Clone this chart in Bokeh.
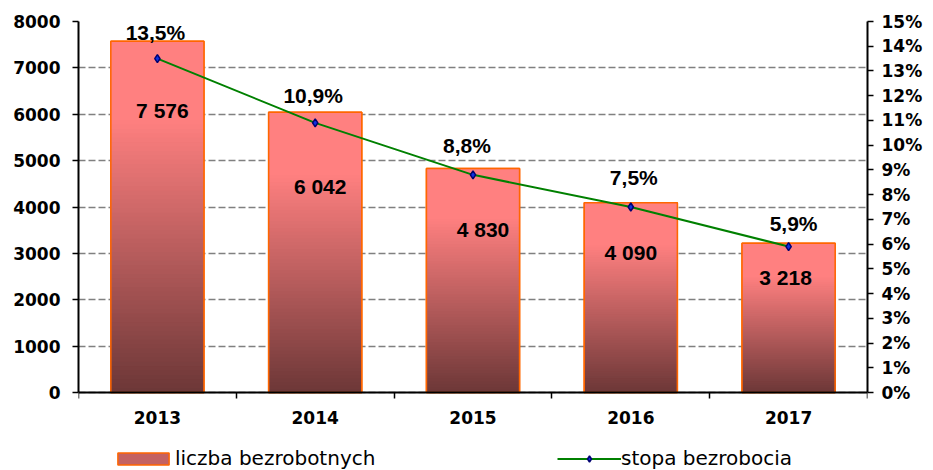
import numpy as np
from bokeh.plotting import figure
from bokeh.models import (Range1d, LinearAxis, FixedTicker, PrintfTickFormatter,
                          ColumnDataSource, Legend, LegendItem)
from bokeh.core.properties import value
from bokeh.embed import file_html
from bokeh.resources import INLINE

# ---- data ----
years = ["2013", "2014", "2015", "2016", "2017"]
unemployed = [7576, 6042, 4830, 4090, 3218]
rate = [13.5, 10.9, 8.8, 7.5, 5.9]
left_ticks = [0, 1000, 2000, 3000, 4000, 5000, 6000, 7000, 8000]
right_ticks = list(range(0, 16))
unemployed_labels = ["7 576", "6 042", "4 830", "4 090", "3 218"]
rate_labels = ["13,5%", "10,9%", "8,8%", "7,5%", "5,9%"]
left_max, right_max = 8000, 15

# ---- style (screen offsets for the hand-placed labels) ----
val_dx = [5, 5, 10, 0, -3]
val_dy = [69, 74, 61, 50, 34]
pct_dx = [-2, -2, -6, 3, 5]
pct_dy = [-26, -27, -29, -30, -23]

AXIS_FONT = "DejaVu Sans"
LABEL_FONT = "Liberation Sans"
BAR_EDGE = "#FF6600"

# layout: plot area 371 px tall, 78 px of room below the zero line (axis labels + legend)
PLOT_H, BELOW_H = 371, 78
below_frac = BELOW_H / PLOT_H

p = figure(width=933, height=470, output_backend="svg", toolbar_location=None,
           x_range=Range1d(0, len(years)),
           y_range=Range1d(-left_max * below_frac, left_max),
           min_border_left=78, min_border_right=66, min_border_top=21,
           min_border_bottom=0)
p.outline_line_color = None
p.background_fill_color = "white"
p.extra_y_ranges = {"pct": Range1d(-right_max * below_frac, right_max)}

centers = np.arange(len(years)) + 0.5
bw = 0.59

bars = ColumnDataSource(dict(x=centers, top=unemployed, lab=unemployed_labels,
                             dx=val_dx, dy=val_dy))
# base bar (used for the legend swatch), covered by the gradient layers
r_base = p.vbar(x="x", top="top", bottom=0, width=bw, source=bars,
                fill_color="#C46262", line_color=BAR_EDGE, line_width=1.5)

# gradient bars: overlapping rectangles from the base, tallest (lightest) first
N = 80
top_rgb = np.array([255, 128, 128])
bot_rgb = np.array([108, 55, 55])
L, R, T, C = [], [], [], []
for k in range(N):
    f1 = 1 - k / N
    f0 = 1 - (k + 1) / N
    t = 1 - (f0 + f1) / 2     # 0 at top of bar, 1 at bottom
    s = 0.0 if t < 0.22 else (t - 0.22) / 0.78
    rgb = top_rgb + (bot_rgb - top_rgb) * s
    col = "#%02x%02x%02x" % tuple(int(round(x)) for x in rgb)
    for c, v in zip(centers, unemployed):
        L.append(c - bw / 2); R.append(c + bw / 2)
        T.append(v * f1); C.append(col)
slices = ColumnDataSource(dict(left=L, right=R, top=T, color=C))
p.quad(left="left", right="right", bottom=0, top="top", source=slices,
       fill_color="color", line_color=None)

p.vbar(x="x", top="top", bottom=0, width=bw, source=bars,
       fill_color=None, line_color=BAR_EDGE, line_width=1.5)

# x axis drawn at the zero line
xa = p.xaxis[0]
xa.fixed_location = 0
xa.ticker = FixedTicker(ticks=list(centers), minor_ticks=list(range(len(years) + 1)))
xa.major_label_overrides = {float(c): y for c, y in zip(centers, years)}
xa.major_tick_out = 0
xa.major_tick_in = 0
xa.minor_tick_out = 6
xa.minor_tick_in = 0
xa.minor_tick_line_color = "black"
xa.minor_tick_line_width = 1.5
xa.axis_line_width = 2
xa.axis_line_color = "black"
xa.major_label_standoff = 12
xa.major_label_text_font = AXIS_FONT
xa.major_label_text_font_style = "bold"
xa.major_label_text_font_size = "17px"
xa.major_label_text_color = "black"
p.xgrid.visible = False

ya = p.yaxis[0]
ya.bounds = (0, left_max)
ya.ticker = FixedTicker(ticks=left_ticks)
ya.minor_tick_line_color = None
ya.major_tick_out = 6
ya.major_tick_in = 0
ya.major_tick_line_width = 1.5
ya.axis_line_width = 2
ya.axis_line_color = "black"
ya.major_label_standoff = 12
ya.major_label_text_font = AXIS_FONT
ya.major_label_text_font_style = "bold"
ya.major_label_text_font_size = "17px"
ya.major_label_text_color = "black"
p.ygrid.ticker = FixedTicker(ticks=left_ticks)
p.ygrid.grid_line_color = "#808080"
p.ygrid.grid_line_dash = "7 3"
p.ygrid.grid_line_width = 1.5

ax2 = LinearAxis(y_range_name="pct", ticker=FixedTicker(ticks=right_ticks),
                 formatter=PrintfTickFormatter(format="%d%%"), bounds=(0, right_max))
ax2.minor_tick_line_color = None
ax2.major_tick_out = 6
ax2.major_tick_in = 0
ax2.major_tick_line_width = 1.5
ax2.axis_line_width = 2
ax2.axis_line_color = "black"
ax2.major_label_standoff = 8
ax2.major_label_text_font = AXIS_FONT
ax2.major_label_text_font_style = "bold"
ax2.major_label_text_font_size = "17px"
ax2.major_label_text_color = "black"
p.add_layout(ax2, "right")

# rate line
ln = ColumnDataSource(dict(x=centers, y=rate, lab=rate_labels, dx=pct_dx, dy=pct_dy))
r_line = p.line("x", "y", source=ln, y_range_name="pct", line_color="#008000", line_width=2)
r_pts = p.scatter("x", "y", source=ln, y_range_name="pct", marker="diamond", size=8,
                  fill_color="#1030E0", line_color="#000070", line_width=1.5)

# labels
p.text("x", "top", text="lab", source=bars, x_offset="dx", y_offset="dy",
       text_font=value(LABEL_FONT), text_font_style="bold", text_font_size="21px",
       text_align="center", text_baseline="middle", text_color="black")
p.text("x", "y", text="lab", source=ln, y_range_name="pct", x_offset="dx", y_offset="dy",
       text_font=value(LABEL_FONT), text_font_style="bold", text_font_size="21px",
       text_align="center", text_baseline="middle", text_color="black")

legend = Legend(items=[
    LegendItem(label="liczba bezrobotnych", renderers=[r_base]),
    LegendItem(label="stopa bezrobocia", renderers=[r_line, r_pts]),
], location=(33, 0), orientation="horizontal")
legend.glyph_width = 64
legend.glyph_height = 15
legend.label_standoff = 0
legend.label_width = 360
legend.spacing = 22
legend.padding = 0
legend.margin = 0
legend.border_line_color = None
legend.background_fill_alpha = 0
legend.label_text_font = AXIS_FONT
legend.label_text_font_size = "20px"
legend.label_text_color = "black"
p.add_layout(legend)

open("out.html", "w").write(file_html(p, INLINE))
